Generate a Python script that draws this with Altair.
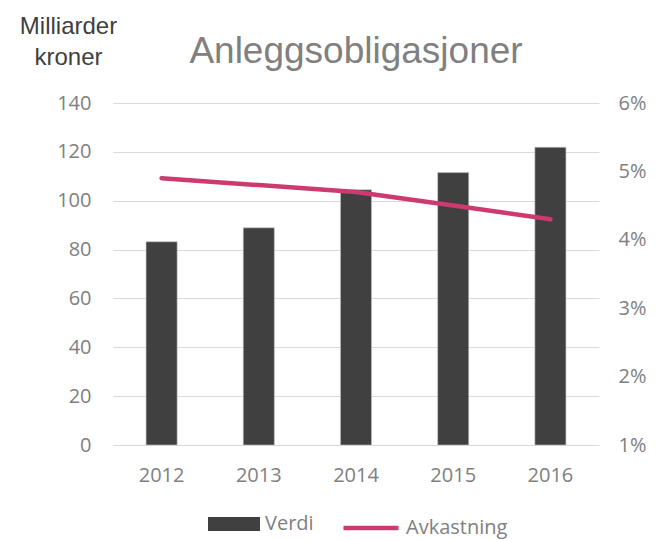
import altair as alt
import pandas as pd

years = ["2012", "2013", "2014", "2015", "2016"]
verdi = [83.2, 88.9, 104.5, 111.5, 121.9]
avkastning = [4.9, 4.8, 4.7, 4.5, 4.3]
series = ["Verdi", "Avkastning"]
colors = ["#404040", "#CC3A70"]

bars_df = pd.DataFrame({"year": years, "value": verdi, "series": series[0]})
line_df = pd.DataFrame({"year": years, "pct": avkastning, "series": series[1]})

LABEL_FONT = "Open Sans"
GRAY = "#808080"

rect_path = "M-1,-0.27H1V0.27H-1Z"

legend_common = dict(
    title=None,
    orient="none",
    direction="horizontal",
    labelFont=LABEL_FONT,
    labelFontSize=20,
    labelColor=GRAY,
    labelOffset=5,
)

x = alt.X(
    "year:N",
    sort=years,
    scale=alt.Scale(paddingInner=0.68, paddingOuter=0.34),
    axis=alt.Axis(
        title=None, labelAngle=0, domain=False, ticks=False, grid=False,
        labelFont=LABEL_FONT, labelFontSize=20, labelColor=GRAY, labelPadding=20,
    ),
)

bars = alt.Chart(bars_df).mark_bar(stroke="#c8c8c8", strokeWidth=0.6).encode(
    x=x,
    y=alt.Y(
        "value:Q",
        scale=alt.Scale(domain=[0, 140], nice=False),
        axis=alt.Axis(
            values=[0, 20, 40, 60, 80, 100, 120, 140],
            title=["Milliarder", "kroner"],
            titleAngle=0,
            titleAlign="center",
            titleBaseline="alphabetic",
            titleX=-45,
            titleY=-70,
            titleFont="Liberation Sans",
            titleFontSize=24,
            titleFontWeight="normal",
            titleColor="#404040",
            titleLineHeight=31,
            domain=False, ticks=False,
            gridColor="#d9d9d9", gridWidth=1.2,
            labelFont=LABEL_FONT, labelFontSize=20, labelColor=GRAY, labelPadding=22,
        ),
    ),
    fill=alt.Fill(
        "series:N",
        scale=alt.Scale(domain=[series[0]], range=[colors[0]]),
        legend=alt.Legend(
            legendX=95, legendY=395, symbolType=rect_path, symbolSize=2704,
            symbolStrokeWidth=0, symbolOpacity=1, **legend_common,
        ),
    ),
)

line = alt.Chart(line_df).mark_line(strokeWidth=4.5, strokeCap="round", strokeJoin="round").encode(
    x=x,
    y=alt.Y(
        "pct:Q",
        scale=alt.Scale(domain=[1, 6], nice=False),
        axis=alt.Axis(
            orient="right",
            values=[1, 2, 3, 4, 5, 6],
            labelExpr="datum.value + '%'",
            title=None, grid=False, domain=False, ticks=False,
            labelFont=LABEL_FONT, labelFontSize=20, labelColor=GRAY, labelPadding=19,
        ),
    ),
    stroke=alt.Stroke(
        "series:N",
        scale=alt.Scale(domain=[series[1]], range=[colors[1]]),
        legend=alt.Legend(
            legendX=228, legendY=395, symbolType="stroke", symbolSize=3025,
            symbolStrokeWidth=4.5, symbolOpacity=1, **legend_common,
        ),
    ),
)

chart = alt.layer(bars, line).resolve_scale(y="independent").properties(
    width=486,
    height=342,
    autosize=alt.AutoSizeParams(type="none"),
    padding={"left": 105, "top": 95, "right": 49, "bottom": 95},
    title=alt.TitleParams(
        "Anleggsobligasjoner",
        font="Liberation Sans",
        fontSize=37,
        fontWeight="normal",
        color=GRAY,
        anchor="middle",
        baseline="alphabetic",
        offset=0,
        dy=86,
    ),
).configure_view(stroke=None)

chart.save("out.html", embed_options={"renderer": "svg", "actions": False})
